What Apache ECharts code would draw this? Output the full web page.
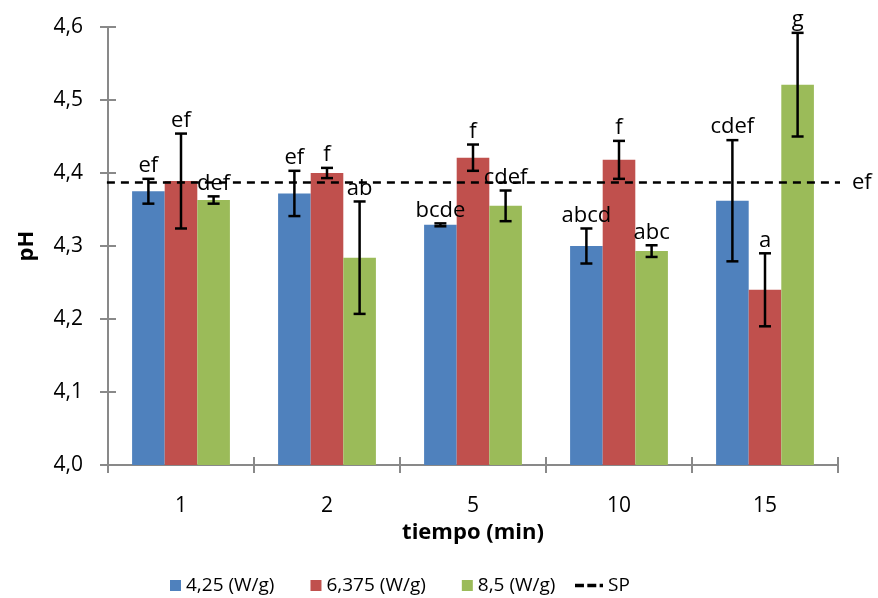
<!DOCTYPE html>
<html>
<head>
<meta charset="utf-8">
<script src="https://cdn.jsdelivr.net/npm/echarts@6/dist/echarts.min.js"></script>
<style>
  html, body { margin: 0; padding: 0; background: #fff; }
  #main { width: 878px; height: 598px; }
</style>
</head>
<body>
<div id="main"></div>
<script>
// datos
var tiempos = ['1', '2', '5', '10', '15'];
var yTicks = [4.0, 4.1, 4.2, 4.3, 4.4, 4.5, 4.6];

var ph425 = [4.375, 4.372, 4.329, 4.300, 4.362];
var ph6375 = [4.389, 4.400, 4.421, 4.418, 4.240];
var ph85 = [4.363, 4.284, 4.355, 4.293, 4.521];

var err425 = [0.017, 0.031, 0.002, 0.024, 0.083];
var err6375 = [0.065, 0.007, 0.018, 0.026, 0.050];
var err85 = [0.005, 0.077, 0.021, 0.008, 0.071];

var letras425 = ['ef', 'ef', 'bcde', 'abcd', 'cdef'];
var letras6375 = ['ef', 'f', 'f', 'f', 'a'];
var letras85 = ['def', 'ab', 'cdef', 'abc', 'g'];

var spValor = 4.387;
var spLetra = 'ef';

var nombres = ['4,25 (W/g)', '6,375 (W/g)', '8,5 (W/g)'];
var colores = ['#4F81BD', '#C0504D', '#9BBB59'];
var medias = [ph425, ph6375, ph85];
var errores = [err425, err6375, err85];
var letras = [letras425, letras6375, letras85];

var catGap = 0.33;
var fuente = '"Open Sans", "Noto Sans", sans-serif';

function coma(v) {
  return v.toFixed(1).replace('.', ',');
}

// barras de error + letras
function renderErr(params, api) {
  var cat = api.value(0);
  var idx = api.value(1);
  var v = api.value(2);
  var e = api.value(3);
  var catW = api.size([1, 0])[0];
  var barW = catW * (1 - catGap) / 3;
  var x = api.coord([cat, v])[0] + (idx - 1) * barW;
  var yTop = api.coord([cat, v + e])[1];
  var yBot = api.coord([cat, v - e])[1];
  var cap = 6;
  var ls = { stroke: '#000', lineWidth: 2.5 };
  return {
    type: 'group',
    children: [
      { type: 'line', shape: { x1: x, y1: yTop, x2: x, y2: yBot }, style: ls },
      { type: 'line', shape: { x1: x - cap, y1: yTop, x2: x + cap, y2: yTop }, style: ls },
      { type: 'line', shape: { x1: x - cap, y1: yBot, x2: x + cap, y2: yBot }, style: ls },
      {
        type: 'text',
        style: {
          text: letras[idx][cat],
          x: x,
          y: yTop - 2,
          align: 'center',
          verticalAlign: 'bottom',
          textAlign: 'center',
          textVerticalAlign: 'bottom',
          font: '22px ' + fuente,
          fill: '#000'
        }
      }
    ]
  };
}

var series = [];
medias.forEach(function (arr, i) {
  series.push({
    name: nombres[i],
    type: 'bar',
    data: arr,
    barGap: '0%',
    barCategoryGap: (catGap * 100) + '%',
    itemStyle: { color: colores[i] },
    emphasis: { disabled: true }
  });
});

series.push({
  name: 'SP',
  type: 'line',
  xAxisIndex: 2,
  data: [[-0.0015, spValor], [1.0096, spValor]],
  symbol: 'none',
  clip: false,
  z: 3,
  lineStyle: { color: '#000', width: 2.5, type: [8, 6] },
  itemStyle: { color: '#000' },
  endLabel: {
    show: true,
    formatter: spLetra,
    distance: 12,
    fontFamily: fuente,
    fontSize: 22,
    color: '#000'
  },
  emphasis: { disabled: true }
});

medias.forEach(function (arr, i) {
  var d = arr.map(function (v, j) {
    return [j, i, v, errores[i][j]];
  });
  series.push({
    name: 'err' + i,
    type: 'custom',
    renderItem: renderErr,
    data: d,
    z: 5,
    encode: { x: 0, y: 2 }
  });
});

var ejeGris = { lineStyle: { color: '#898989', width: 2 } };

var option = {
  animation: false,
  backgroundColor: '#fff',
  textStyle: { fontFamily: fuente },
  grid: { left: 108, right: 40, top: 27, bottom: 133 },
  legend: [
    {
      data: nombres,
      left: 165,
      top: 571,
      itemWidth: 11,
      itemHeight: 11,
      itemGap: 36,
      icon: 'rect',
      textStyle: { fontSize: 19, color: '#000', fontFamily: fuente }
    },
    {
      data: [{ name: 'SP', icon: 'path://M0,4h8v3h-8z M11,4h8v3h-8z M22,4h3v3h-3z' }],
      left: 570,
      top: 571,
      itemWidth: 28,
      itemHeight: 11,
      itemStyle: { color: '#000' },
      textStyle: { fontSize: 19, color: '#000', fontFamily: fuente }
    }
  ],
  xAxis: [
    {
      type: 'category',
      data: tiempos,
      name: 'tiempo (min)',
      nameLocation: 'middle',
      nameGap: 51,
      nameTextStyle: { fontSize: 22, fontWeight: 'bold', color: '#000', fontFamily: fuente },
      axisLine: ejeGris,
      axisTick: { show: true, length: 8, lineStyle: { color: '#898989', width: 2 } },
      axisLabel: { fontSize: 21, color: '#000', margin: 31, fontFamily: fuente },
      splitLine: { show: false }
    },
    {
      type: 'category',
      data: tiempos,
      position: 'bottom',
      axisLine: { show: false },
      axisTick: { show: true, inside: true, length: 8, lineStyle: { color: '#898989', width: 2 } },
      axisLabel: { show: false },
      splitLine: { show: false }
    },
    {
      type: 'value',
      min: 0,
      max: 1,
      show: false
    }
  ],
  yAxis: [
    {
      type: 'value',
      min: yTicks[0],
      max: yTicks[yTicks.length - 1],
      interval: 0.1,
      name: 'pH',
      nameLocation: 'middle',
      nameGap: 70,
      nameTextStyle: { fontSize: 22, fontWeight: 'bold', color: '#000', fontFamily: fuente },
      axisLine: { show: true, lineStyle: { color: '#898989', width: 2 } },
      axisTick: { show: true, length: 8, lineStyle: { color: '#898989', width: 2 } },
      axisLabel: { fontSize: 21, color: '#000', margin: 25, formatter: coma, fontFamily: fuente },
      splitLine: { show: false }
    },
    {
      type: 'value',
      min: yTicks[0],
      max: yTicks[yTicks.length - 1],
      interval: 0.1,
      position: 'left',
      axisLine: { show: false },
      axisTick: { show: true, inside: true, length: 8, lineStyle: { color: '#898989', width: 2 } },
      axisLabel: { show: false },
      splitLine: { show: false }
    }
  ],
  series: series
};

var myChart = echarts.init(document.getElementById('main'));
myChart.setOption(option);
</script>
</body>
</html>
